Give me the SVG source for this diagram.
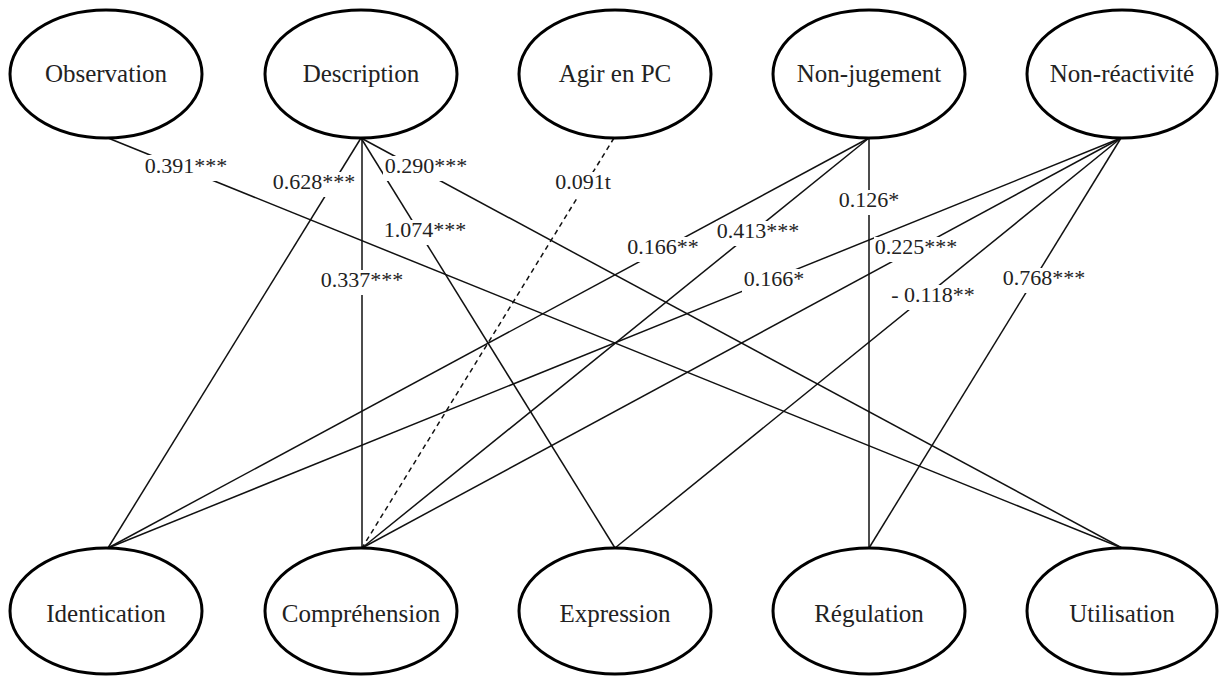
<svg xmlns="http://www.w3.org/2000/svg" width="1220" height="677" viewBox="0 0 1220 677">
<style>
.node ellipse{fill:#fff;stroke:#000;stroke-width:3}
.node text{font-family:"Liberation Serif","Times New Roman",serif;font-size:25px;fill:#222;text-anchor:middle}
.edges line{stroke:#111;stroke-width:1.5}
.edges line.dash{stroke-dasharray:5 4}
.lbl rect{fill:#fff}
.lbl text{font-family:"Liberation Serif","Times New Roman",serif;font-size:22px;fill:#222;text-anchor:middle}
</style>
<rect width="1220" height="677" fill="#fff"/>
<g id="connectors" class="edges">
<line x1="108" y1="138" x2="1122" y2="548"/>
<line x1="361" y1="138" x2="108" y2="548"/>
<line x1="362" y1="138" x2="362" y2="548"/>
<line x1="361" y1="138" x2="615" y2="548"/>
<line x1="361" y1="138" x2="1122" y2="548"/>
<line class="dash" x1="614" y1="138" x2="362" y2="548"/>
<line x1="869" y1="138" x2="108" y2="548"/>
<line x1="869" y1="138" x2="362" y2="548"/>
<line x1="869" y1="138" x2="869" y2="548"/>
<line x1="1121" y1="138" x2="108" y2="548"/>
<line x1="1121" y1="138" x2="362" y2="548"/>
<line x1="1121" y1="138" x2="615" y2="548"/>
<line x1="1121" y1="138" x2="869" y2="548"/>
</g>
<g id="labels" class="lbl">
<rect x="143" y="155" width="86" height="26"/><text x="186" y="173">0.391***</text>
<rect x="271" y="172" width="86" height="25"/><text x="314" y="189">0.628***</text>
<rect x="320" y="270" width="86" height="25"/><text x="362" y="287">0.337***</text>
<rect x="383" y="220" width="85" height="25"/><text x="425" y="237">1.074***</text>
<rect x="383" y="156" width="86" height="25"/><text x="426" y="173">0.290***</text>
<rect x="554" y="172" width="60" height="25"/><text x="583" y="189">0.091t</text>
<rect x="626" y="237" width="74" height="25"/><text x="663" y="254">0.166**</text>
<rect x="716" y="221" width="85" height="25"/><text x="758" y="238">0.413***</text>
<rect x="837" y="190" width="64" height="25"/><text x="869" y="207">0.126*</text>
<rect x="742" y="269" width="64" height="25"/><text x="774" y="286">0.166*</text>
<rect x="874" y="237" width="85" height="25"/><text x="916" y="254">0.225***</text>
<rect x="890" y="285" width="87" height="25"/><text x="933" y="302">- 0.118**</text>
<rect x="1001" y="268" width="86" height="25"/><text x="1044" y="285">0.768***</text>
</g>
<g id="observation" class="node"><ellipse cx="106" cy="74" rx="96" ry="64"/><text x="106" y="82">Observation</text></g>
<g id="description" class="node"><ellipse cx="361" cy="74" rx="96" ry="64"/><text x="361" y="82">Description</text></g>
<g id="agir" class="node"><ellipse cx="615" cy="74" rx="96" ry="64"/><text x="615" y="82">Agir en PC</text></g>
<g id="nonjugement" class="node"><ellipse cx="869" cy="74" rx="96" ry="64"/><text x="869" y="82">Non-jugement</text></g>
<g id="nonreactivite" class="node"><ellipse cx="1122" cy="74" rx="95" ry="64"/><text x="1122" y="82">Non-réactivité</text></g>
<g id="identication" class="node"><ellipse cx="106" cy="611" rx="96" ry="63"/><text x="106" y="622">Identication</text></g>
<g id="comprehension" class="node"><ellipse cx="361" cy="611" rx="96" ry="63"/><text x="361" y="622">Compréhension</text></g>
<g id="expression" class="node"><ellipse cx="615" cy="611" rx="96" ry="63"/><text x="615" y="622">Expression</text></g>
<g id="regulation" class="node"><ellipse cx="869" cy="611" rx="96" ry="63"/><text x="869" y="622">Régulation</text></g>
<g id="utilisation" class="node"><ellipse cx="1122" cy="611" rx="95" ry="63"/><text x="1122" y="622">Utilisation</text></g>
</svg>
